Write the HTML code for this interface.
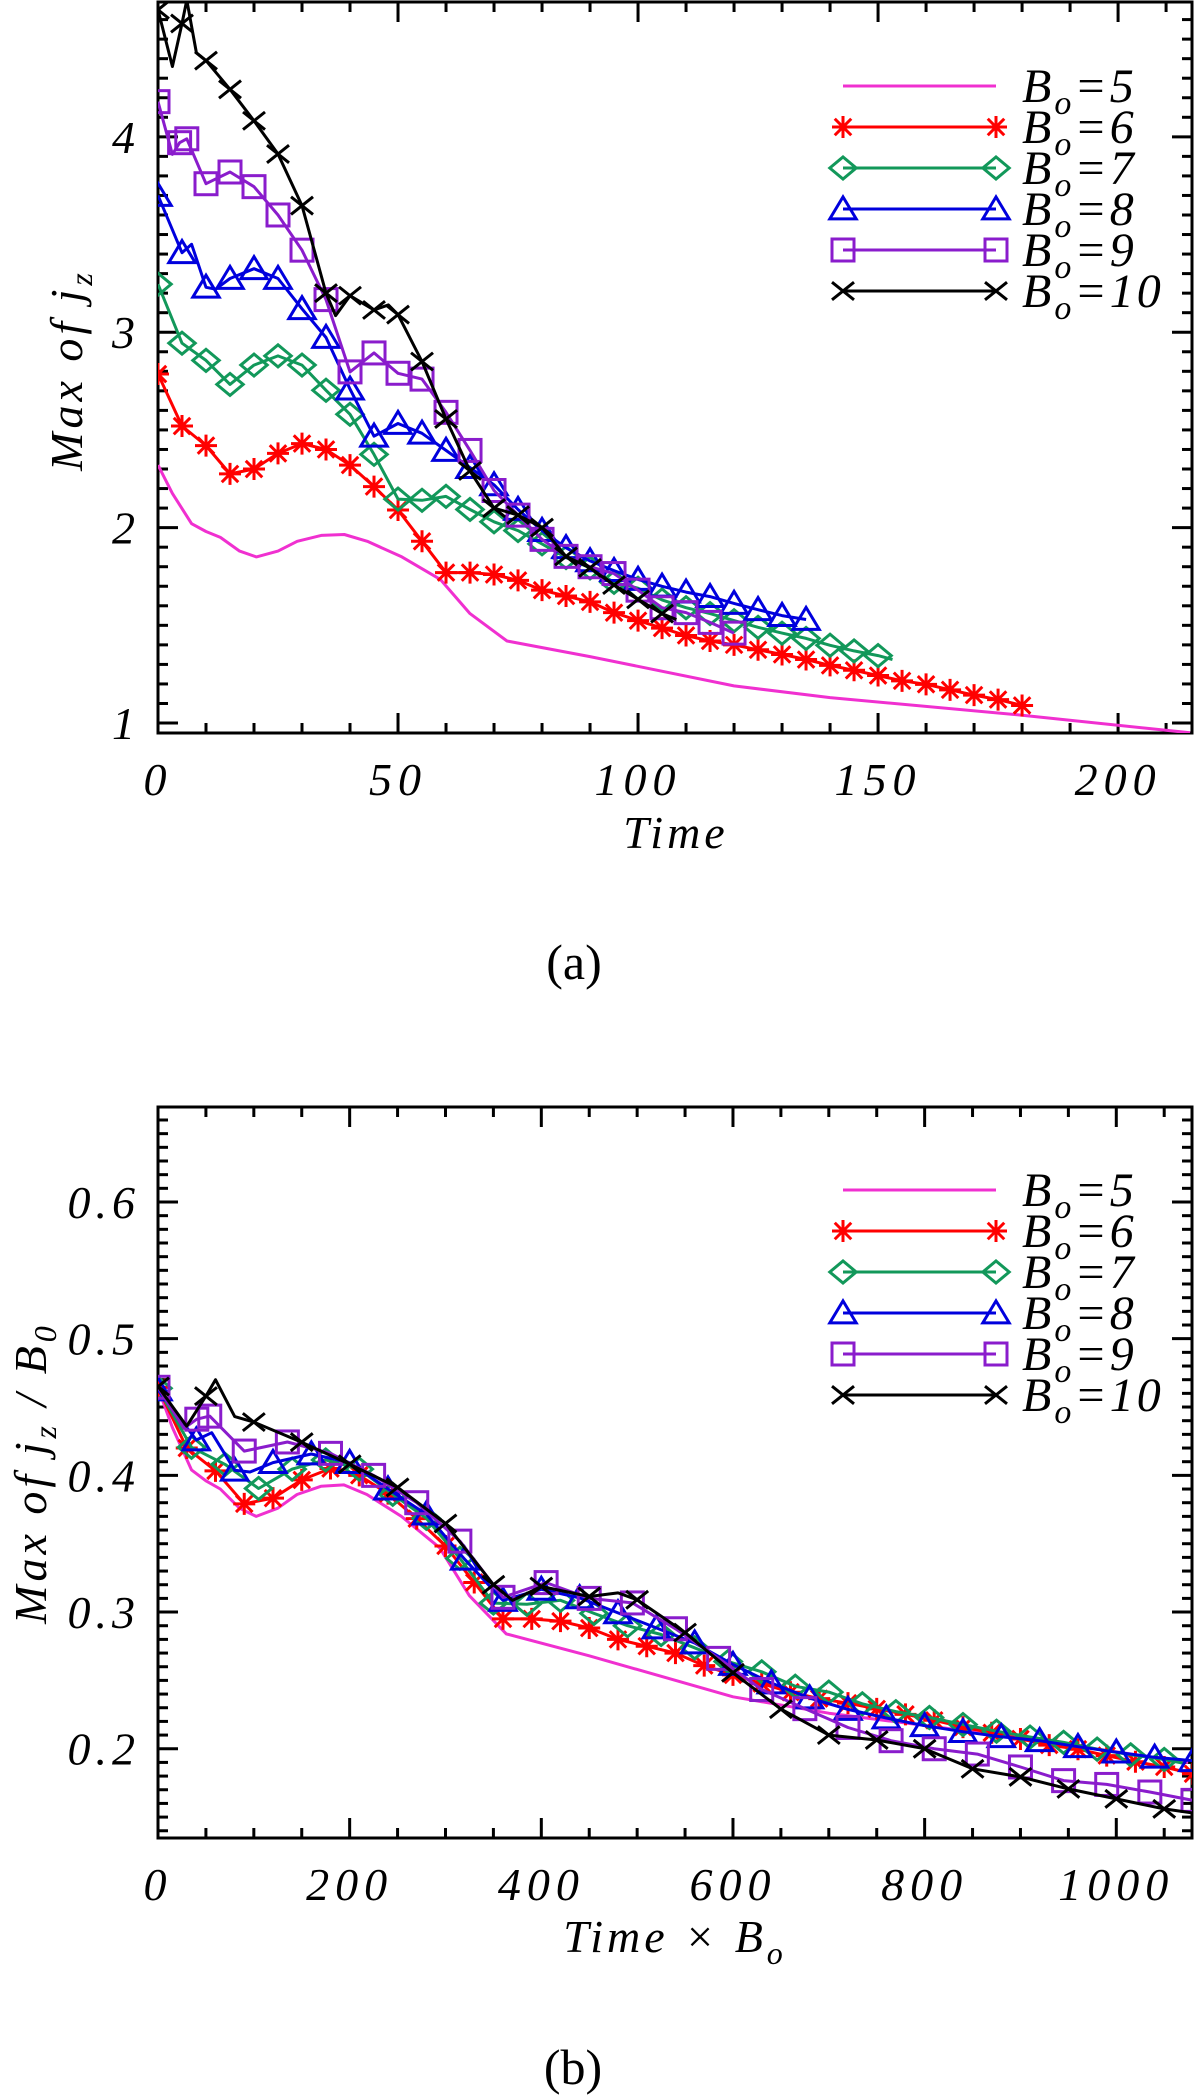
<!DOCTYPE html>
<html><head><meta charset="utf-8"><style>
html,body{margin:0;padding:0;background:#fff;}
svg{display:block;}
text{font-family:"Liberation Serif","DejaVu Serif",serif;}
</style></head><body>
<svg id="fig" width="1200" height="2095" viewBox="0 0 1200 2095" xmlns="http://www.w3.org/2000/svg"></svg>
<script>
// ---- data (panel a: Time vs Max of jz) ----
const legendLabels = ["5","6","7","8","9","10"];
const b0Values = [5,6,7,8,9,10];
const colors = ["#f030d0","#ff0000","#12985a","#0000dd","#8a1ccc","#000000"];
const markerKinds = ["none","star","diamond","triangle","square","x"];

const tB5 = [0,3,7,10,13,17,20.5,25,29,34,38.8,43.6,50.8,58.8,65,72.7,90,120,140,180,215];
const vB5 = [2.32,2.175,2.02,1.98,1.95,1.88,1.85,1.88,1.93,1.96,1.965,1.93,1.85,1.735,1.56,1.42,1.34,1.19,1.13,1.04,0.95];

const tB6 = [0,5,10,15,20,25,30,35,40,45,50,55,60,65,70,75,80,85,90,95,100,105,110,115,120,125,130,135,140,145,150,155,160,165,170,175,180];
const vB6 = [2.786,2.52,2.42,2.275,2.30,2.38,2.43,2.40,2.32,2.21,2.09,1.93,1.77,1.77,1.76,1.73,1.68,1.65,1.62,1.565,1.524,1.486,1.448,1.42,1.40,1.375,1.351,1.325,1.295,1.27,1.243,1.216,1.198,1.17,1.143,1.12,1.09];

const tB7 = [0,5,10,15,20,25,30,35,40,45,50,55,60,65,70,75,80,85,90,95,100,105,110,115,120,125,130,135,140,145,150,153];
const vB7 = [3.246,2.944,2.856,2.733,2.832,2.879,2.832,2.703,2.58,2.375,2.146,2.14,2.16,2.093,2.03,1.985,1.917,1.847,1.794,1.72,1.69,1.63,1.59,1.56,1.524,1.49,1.46,1.433,1.398,1.369,1.345,1.325];

const tB8 = [0,5,7,10,12,15,20,25,30,35,40,45,50,55,60,65,70,75,80,85,90,95,100,105,110,115,120,125,130,135];
const vB8 = [3.70,3.407,3.45,3.23,3.22,3.275,3.325,3.275,3.12,2.973,2.709,2.468,2.533,2.483,2.395,2.307,2.219,2.093,1.985,1.897,1.83,1.78,1.735,1.70,1.67,1.647,1.612,1.58,1.55,1.53];

const tB9 = [0,3,4.5,6,10,15,20,25,30,35,40,45,50,55,60,65,70,75,80,85,90,95,100,105,110,115,120];
const vB9 = [4.18,3.91,3.97,3.99,3.76,3.82,3.745,3.60,3.42,3.167,2.797,2.894,2.79,2.76,2.59,2.395,2.19,2.064,1.94,1.853,1.80,1.765,1.68,1.59,1.565,1.515,1.46];

const tB10 = [0,3,5,6,8,10,15,20,25,30,35,37,40,45,48,50,55,60,65,70,75,80,85,90,95,100,105,108];
const vB10 = [4.65,4.36,4.58,4.70,4.43,4.39,4.243,4.082,3.912,3.648,3.20,3.085,3.187,3.114,3.14,3.09,2.85,2.556,2.29,2.10,2.064,2.0,1.853,1.794,1.706,1.633,1.56,1.53];

// marker positions (times) for the B0=9 series
const mkB9 = [0,4.5,6,10,15,20,25,30,35,40,45,50,55,60,65,70,75,80,85,90,95,100,105,110,115,120];

const seriesT = [tB5,tB6,tB7,tB8,tB9,tB10];
const seriesV = [vB5,vB6,vB7,vB8,vB9,vB10];

const ticksA_x = [0,50,100,150,200];
const ticksA_y = [1,2,3,4];
const ticksB_x = [0,200,400,600,800,1000];
const ticksB_y = [0.2,0.3,0.4,0.5,0.6];
const ticksB_ylabels = ["0.2","0.3","0.4","0.5","0.6"];

const NS="http://www.w3.org/2000/svg";
const FF='"Liberation Serif","DejaVu Serif",serif';
const svg=document.getElementById('fig');
function mk(tag,attrs,parent){const e=document.createElementNS(NS,tag);for(const k in attrs)e.setAttribute(k,attrs[k]);(parent||svg).appendChild(e);return e;}

function panel(cfg){
  const g=mk('g',{});
  
  
  const L=158,R=1192,T=cfg.top,B=cfg.bottom;
  const sx=v=>L+(v-cfg.xmin)/(cfg.xmax-cfg.xmin)*(R-L);
  const sy=v=>B-(v-cfg.ymin)/(cfg.ymax-cfg.ymin)*(B-T);
  const clipId='clip'+cfg.id;
  const defs=mk('defs',{},g);
  const cp=mk('clipPath',{id:clipId},defs);
  mk('rect',{x:L,y:T,width:R-L,height:B-T},cp);
  const tg=mk('g',{stroke:'#000','stroke-width':3},g);
  
  
  for(let v=cfg.xmin;v<=cfg.xmax+1e-9;v+=cfg.xminor){
    const x=sx(v);const major=Math.abs(v/cfg.xmajor-Math.round(v/cfg.xmajor))<1e-6;const len=major?20:10;
    mk('line',{x1:x,y1:B,x2:x,y2:B-len},tg);mk('line',{x1:x,y1:T,x2:x,y2:T+len},tg);
  }
  const y0=Math.ceil(cfg.ymin/cfg.yminor-1e-6);
  for(let i=y0;i*cfg.yminor<=cfg.ymax+1e-9;i++){
    const v=i*cfg.yminor;const y=sy(v);const major=Math.abs(v/cfg.ymajor-Math.round(v/cfg.ymajor))<1e-6;const len=major?20:10;
    mk('line',{x1:L,y1:y,x2:L+len,y2:y},tg);mk('line',{x1:R,y1:y,x2:R-len,y2:y},tg);
  }
  const frame=mk('rect',{x:L,y:T,width:R-L,height:B-T,fill:'none',stroke:'#000','stroke-width':3},g);
  
  
  cfg.xticks.forEach((v,i)=>{
    const t=mk('text',{x:sx(v),y:B+62,'font-family':FF,'font-size':46,'font-style':'italic','text-anchor':'middle','letter-spacing':6},g);
    t.textContent=String(v);
    
    
  });
  cfg.yticks.forEach((v,i)=>{
    const t=mk('text',{x:cfg.ylabx,y:sy(v)+16,'font-family':FF,'font-size':46,'font-style':'italic','text-anchor':'end','letter-spacing':5},g);
    t.textContent=cfg.ylabels[i];
    
    
  });
  const dg=mk('g',{'clip-path':'url(#'+clipId+')'},g);
  seriesT.forEach((ts,si)=>{
    const b=cfg.scaled?b0Values[si]:1;
    const vs=seriesV[si];
    const sg=mk('g',{},dg);
    
    
    const pts=ts.map((t,i)=>sx(t*b).toFixed(1)+','+sy(vs[i]/b).toFixed(1)).join(' ');
    const pl=mk('polyline',{points:pts,fill:'none',stroke:colors[si],'stroke-width':3,'stroke-linejoin':'round'},sg);
    
    
    if(markerKinds[si]!=='none'){
      ts.forEach((t,i)=>{
        const isMk = si===4 ? mkB9.indexOf(t)>=0 : (Math.abs(t/5-Math.round(t/5))<1e-6);
        if(!isMk) return;
        const m=marker(markerKinds[si],sx(t*b),sy(vs[i]/b),colors[si],sg);
        
        
      });
    }
  });
  const lg=mk('g',{},g);
  
  
  legendLabels.forEach((lab,i)=>{
    const y=cfg.legTop+i*41;
    const eg=mk('g',{},lg);
    
    
    mk('line',{x1:843,y1:y,x2:996,y2:y,stroke:colors[i],'stroke-width':3},eg);
    if(markerKinds[i]!=='none'){marker(markerKinds[i],843,y,colors[i],eg);marker(markerKinds[i],996,y,colors[i],eg);}
    const t=mk('text',{x:1022,y:y+16,'font-family':FF,'font-size':48,'font-style':'italic','letter-spacing':3},eg);
    t.innerHTML='B<tspan font-size="34" dy="12">o</tspan><tspan dy="-12">='+lab+'</tspan>';
  });
  return {sx,sy,g};
}
function marker(kind,x,y,c,parent){
  const s=11;let e;
  if(kind==='star'){
    e=mk('path',{d:`M${x-s},${y}H${x+s}M${x},${y-s}V${y+s}M${x-s*.75},${y-s*.75}L${x+s*.75},${y+s*.75}M${x-s*.75},${y+s*.75}L${x+s*.75},${y-s*.75}`,stroke:c,'stroke-width':3,fill:'none'},parent);
  }else if(kind==='diamond'){
    e=mk('path',{d:`M${x-s*1.2},${y}L${x},${y-s}L${x+s*1.2},${y}L${x},${y+s}Z`,stroke:c,'stroke-width':3,fill:'none'},parent);
  }else if(kind==='triangle'){
    e=mk('path',{d:`M${x-s*1.2},${y+s*0.9}L${x},${y-s*1.1}L${x+s*1.2},${y+s*0.9}Z`,stroke:c,'stroke-width':3,fill:'none'},parent);
  }else if(kind==='square'){
    e=mk('rect',{x:x-s,y:y-s,width:2*s,height:2*s,stroke:c,'stroke-width':3,fill:'none'},parent);
  }else{
    e=mk('path',{d:`M${x-s},${y-s*0.8}L${x+s},${y+s*0.8}M${x-s},${y+s*0.8}L${x+s},${y-s*0.8}`,stroke:c,'stroke-width':3,fill:'none'},parent);
  }
  return e;
}

panel({id:'panel-a',name:'panel-a-chart',top:2,bottom:733,xmin:0,xmax:215.4,ymin:0.949,ymax:4.69,
  xminor:10,xmajor:50,yminor:0.1,ymajor:1,xticks:ticksA_x,yticks:ticksA_y,ylabels:ticksA_y.map(String),ylabx:140,
  scaled:false,legTop:86});
panel({id:'panel-b',name:'panel-b-chart',top:1107,bottom:1838,xmin:0,xmax:1079,ymin:0.1347,ymax:0.6695,
  xminor:50,xmajor:200,yminor:0.01,ymajor:0.1,xticks:ticksB_x,yticks:ticksB_y,ylabels:ticksB_ylabels,ylabx:140,
  scaled:true,legTop:1190});

function txt(attrs,html,name){attrs['font-family']=FF;const t=mk('text',attrs);t.innerHTML=html;return t;}
txt({x:676,y:848,'font-size':46,'font-style':'italic','text-anchor':'middle','letter-spacing':4},'Time','x-axis-title-a');
txt({x:675,y:1952,'font-size':46,'font-style':'italic','text-anchor':'middle','letter-spacing':4},'Time × B<tspan font-size="32" dy="12">o</tspan>','x-axis-title-b');
txt({x:0,y:0,'font-size':46,'font-style':'italic','text-anchor':'middle','letter-spacing':4,transform:'translate(82,370) rotate(-90)'},'Max of j<tspan font-size="32" dy="10">z</tspan>','y-axis-title-a');
txt({x:0,y:0,'font-size':46,'font-style':'italic','text-anchor':'middle','letter-spacing':4,transform:'translate(46,1473) rotate(-90)'},'Max of j<tspan font-size="32" dy="10">z</tspan><tspan dy="-10"> / B</tspan><tspan font-size="32" dy="10">0</tspan>','y-axis-title-b');
txt({x:574,y:979,'font-size':50,'text-anchor':'middle'},'(a)','caption-a');
txt({x:573,y:2084,'font-size':50,'text-anchor':'middle'},'(b)','caption-b');
</script>
</body></html>
